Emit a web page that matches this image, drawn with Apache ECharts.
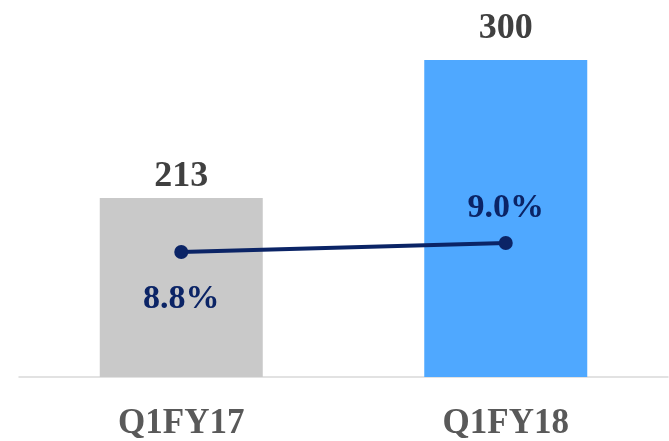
<!DOCTYPE html>
<html>
<head>
<meta charset="utf-8">
<style>
  html, body { margin: 0; padding: 0; background: #fff; }
  #chart { width: 669px; height: 441px; }
</style>
<script src="https://cdn.jsdelivr.net/npm/echarts@6/dist/echarts.min.js"></script>
</head>
<body>
<div id="chart"></div>
<script>
// chart data
var categories = ['Q1FY17', 'Q1FY18']
var barValues = [213, 300]
var barColors = ['#c9c9c9', '#4fa8ff']
var marginValues = [8.8, 9.0]

var font = '"Liberation Serif", "Times New Roman", serif'

var chart = echarts.init(document.getElementById('chart'))

var barData = barValues.map(function(v, i) {
  return {
    value: v,
    itemStyle: { color: barColors[i] },
    label: { distance: i === 0 ? 3 : 13 }
  }
})

var lineData = marginValues.map(function(v, i) {
  return {
    value: v,
    label: i === 0 ? { position: 'bottom', distance: 23 } : { position: 'top', distance: 11 }
  }
})

chart.setOption({
  animation: false,
  grid: {
    left: 19,
    right: 1,
    top: 60,
    bottom: 64
  },
  xAxis: {
    type: 'category',
    data: categories,
    axisTick: { show: false },
    axisLine: { lineStyle: { color: '#d9d9d9', width: 1.5 } },
    axisLabel: {
      margin: 29,
      fontFamily: font,
      fontSize: 35,
      fontWeight: 'bold',
      color: '#595959'
    }
  },
  yAxis: [
    { type: 'value', min: 100, max: 300, show: false, splitLine: { show: false } },
    { type: 'value', min: 6, max: 13.1, show: false, splitLine: { show: false } }
  ],
  series: [
    {
      type: 'bar',
      data: barData,
      barWidth: 163,
      label: {
        show: true,
        position: 'top',
        fontFamily: font,
        fontSize: 36,
        fontWeight: 'bold',
        color: '#404040'
      }
    },
    {
      type: 'line',
      yAxisIndex: 1,
      data: lineData,
      symbol: 'circle',
      symbolSize: 14,
      itemStyle: { color: '#0b2466' },
      lineStyle: { color: '#0b2466', width: 4 },
      label: {
        show: true,
        fontFamily: font,
        fontSize: 34,
        fontWeight: 'bold',
        color: '#0b2466',
        formatter: function(p) { return p.value.toFixed(1) + '%' }
      }
    }
  ]
})
</script>
</body>
</html>
